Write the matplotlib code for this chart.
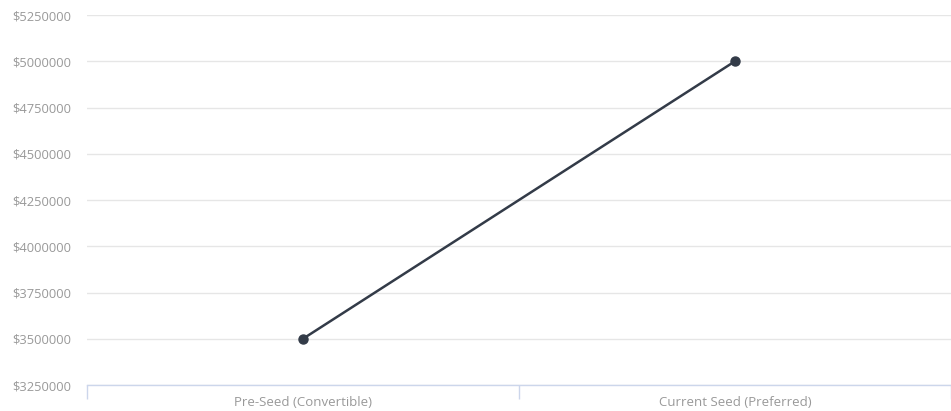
import matplotlib.pyplot as plt
from matplotlib.ticker import FuncFormatter, FixedLocator

# data
rounds = ["Pre-Seed (Convertible)", "Current Seed (Preferred)"]
valuations = [3500000, 5000000]
y_ticks = [3250000, 3500000, 3750000, 4000000, 4250000, 4500000, 4750000, 5000000, 5250000]

plt.rcParams['font.family'] = ['Open Sans', 'DejaVu Sans']

fig = plt.figure(figsize=(9.51, 4.11), dpi=100)
ax = fig.add_axes([87 / 951, 26 / 411, 864 / 951, 370 / 411])

ax.set_ylim(y_ticks[0], y_ticks[-1])
ax.set_yticks(y_ticks)
ax.yaxis.set_major_formatter(FuncFormatter(lambda v, p: f"${int(v)}"))
ax.grid(axis="y", color="#e6e6e6", linewidth=1)
ax.set_axisbelow(True)

x = list(range(len(rounds)))
ax.plot(x, valuations, color="#333b48", linewidth=1.8, marker="o",
        markersize=6.5, zorder=3, clip_on=False)

ax.set_xlim(-0.5, len(rounds) - 0.5)
ax.set_xticks(x)
ax.set_xticklabels(rounds)
ax.xaxis.set_minor_locator(FixedLocator([i - 0.5 for i in range(len(rounds) + 1)]))
ax.tick_params(axis="x", which="major", length=0, pad=8, labelsize=9.5, labelcolor="#999999")
ax.tick_params(axis="x", which="minor", length=10, width=1, color="#ccd6eb")
ax.tick_params(axis="y", length=0, pad=11, labelsize=9.3, labelcolor="#999999")

for s in ["top", "right", "left"]:
    ax.spines[s].set_visible(False)
ax.spines["bottom"].set_color("#ccd6eb")
ax.spines["bottom"].set_linewidth(1)

fig.savefig("out.png", dpi=100)
